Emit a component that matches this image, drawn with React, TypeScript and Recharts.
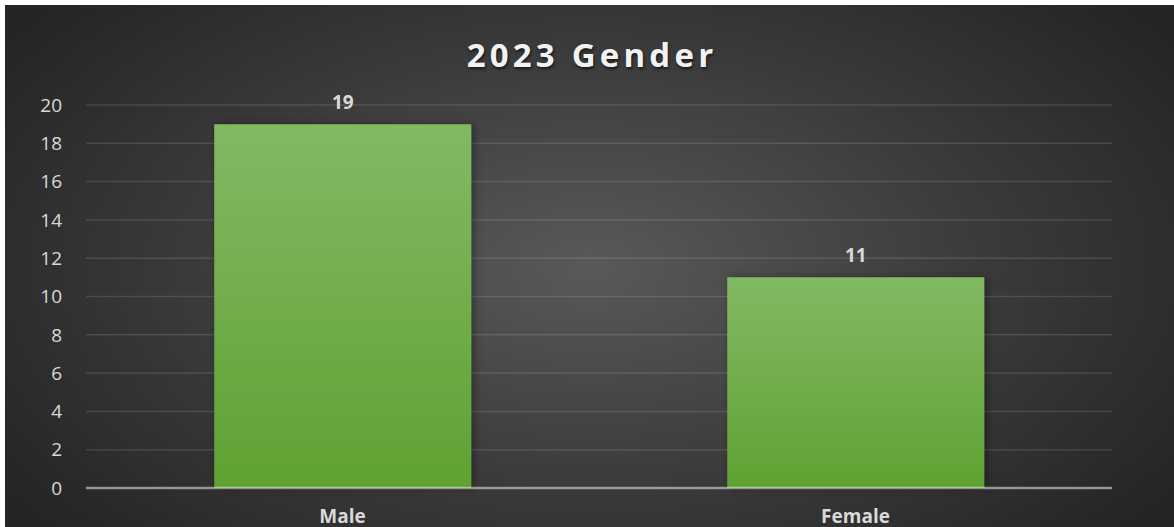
import React from "react";
import { BarChart, Bar, XAxis, YAxis, CartesianGrid, LabelList } from "recharts";

const categories = ["Male", "Female"];
const counts = [19, 11];
const yTicks = [0, 2, 4, 6, 8, 10, 12, 14, 16, 18, 20];
const title = "2023 Gender";

const data = categories.map((c, i) => ({ name: c, value: counts[i] }));

const FONT = "'Open Sans', 'Noto Sans', sans-serif";

export default function App() {
  return (
    <div
      style={{
        position: "absolute",
        left: 5,
        top: 5,
        width: 1169,
        height: 522,
        overflow: "hidden",
        background: "radial-gradient(ellipse 60% 75% at 50% 50%, #595959 0%, #3b3b3b 55%, #252525 100%)",
        fontFamily: FONT,
      }}
    >
      <div
        style={{
          position: "absolute",
          left: 0,
          top: 28,
          width: 1174,
          textAlign: "center",
          fontSize: 33,
          fontWeight: 700,
          letterSpacing: 4.2,
          color: "#f2f2f2",
          textShadow: "1px 2px 3px rgba(0,0,0,0.6)",
          lineHeight: "44px",
        }}
      >
        {title}
      </div>
      <div style={{ position: "absolute", left: 0, top: 0 }}>
        <BarChart
          width={1169}
          height={522}
          data={data}
          margin={{ top: 100, right: 62, bottom: 0, left: 0 }}
          barCategoryGap="25%"
        >
          <defs>
            <linearGradient id="barGrad" x1="0" y1="0" x2="0" y2="1">
              <stop offset="0%" stopColor="#82b964" />
              <stop offset="100%" stopColor="#5fa232" />
            </linearGradient>
            <filter id="barShadow" x="-10%" y="-10%" width="120%" height="120%">
              <feDropShadow dx="3" dy="0" stdDeviation="4" floodColor="#000" floodOpacity="0.35" />
            </filter>
          </defs>
          <CartesianGrid
            vertical={false}
            stroke="#ffffff"
            strokeOpacity={0.12}
            strokeWidth={1.5}
          />
          <XAxis
            dataKey="name"
            height={39}
            tickLine={false}
            tickSize={0}
            tickMargin={22}
            axisLine={{ stroke: "rgba(255,255,255,0.45)", strokeWidth: 2.5 }}
            tick={{ fill: "#d9d9d9", fontSize: 19, fontWeight: 700, fontFamily: FONT }}
          />
          <YAxis
            width={81}
            domain={[0, 20]}
            ticks={yTicks}
            interval={0}
            axisLine={false}
            tickLine={false}
            tickSize={0}
            tickMargin={24}
            tick={{ fill: "#d9d9d9", fontSize: 19, fontFamily: FONT }}
          />
          <Bar
            dataKey="value"
            fill="url(#barGrad)"
            isAnimationActive={false}
            style={{ filter: "url(#barShadow)" }}
          >
            <LabelList
              dataKey="value"
              position="top"
              offset={15}
              fill="#d9d9d9"
              fontSize={19}
              fontWeight={700}
              fontFamily={FONT}
            />
          </Bar>
        </BarChart>
      </div>
    </div>
  );
}
